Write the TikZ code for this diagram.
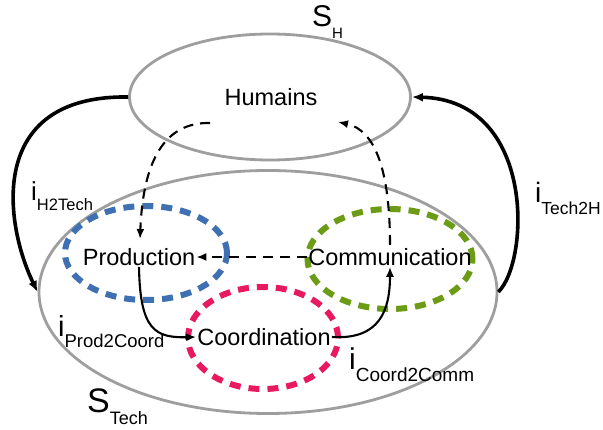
\documentclass[tikz,border=0pt]{standalone}
\usepackage{fontspec}
\setmainfont{Liberation Sans}
\usetikzlibrary{shapes.geometric,arrows.meta}
\definecolor{grayline}{RGB}{158,158,158}
\definecolor{prodblue}{RGB}{62,112,178}
\definecolor{coordpink}{RGB}{232,25,95}
\definecolor{commgreen}{RGB}{108,155,22}
% #1 main letter, #2 subscript, #3 main size, #4 sub size, #5 lowering
\newcommand{\lbl}[5]{{\fontsize{#3}{#3}\selectfont #1}\raisebox{-#5}{\fontsize{#4}{#4}\selectfont #2}}
\begin{document}
\begin{tikzpicture}[x=1pt,y=-1pt,
  sys/.style={ellipse,draw=grayline,line width=2.8pt,inner sep=0pt},
  sub/.style={ellipse,line width=6pt,dash pattern=on 11pt off 8pt,inner sep=0pt},
  word/.style={font=\fontsize{23.5}{23.5}\selectfont,inner sep=1pt},
  big/.style={-{Latex[length=11pt,width=9pt]},line width=3.6pt},
  small/.style={-{Latex[length=10pt,width=8pt]},line width=2.1pt},
  dsh/.style={-{Latex[length=10pt,width=8pt]},line width=2.1pt,dash pattern=on 10pt off 7pt},
  lab/.style={inner sep=0pt,anchor=base west}]
\useasboundingbox (0,0) rectangle (603,430);
% system ellipses
\node[sys,minimum width=281pt,minimum height=126pt] (hum) at (270,97) {};
\node[sys,minimum width=458pt,minimum height=243pt] (tech) at (268,292) {};
% sub-ellipses
\node[sub,draw=prodblue,minimum width=162pt,minimum height=94pt] (prodE) at (146,253) {};
\node[sub,draw=coordpink,minimum width=150pt,minimum height=102pt] (coordE) at (263,338) {};
\node[sub,draw=commgreen,minimum width=165pt,minimum height=100pt] (commE) at (390,259) {};
% texts
\node[word] (humT) at (271,97) {Humains};
\node[word] (prod) at (139,257) {Production};
\node[word] (comm) at (390,257) {Communication};
\node[word] (coord) at (264,337) {Coordination};
% labels
\node[lab] (sh) at (312,27) {\lbl{S}{H}{30}{15}{12pt}};
\node[lab] (st) at (87,413) {\lbl{S}{Tech}{34}{18}{12pt}};
\node[lab] (ih2t) at (31,201) {\lbl{i}{H2Tech}{26}{16.5}{10pt}};
\node[lab] (it2h) at (535,203) {\lbl{i}{Tech2H}{28}{17.5}{12pt}};
\node[lab] (ip2c) at (58,337) {\lbl{i}{Prod2Coord}{29}{18.5}{11pt}};
\node[lab] (ic2c) at (349,370) {\lbl{i}{Coord2Comm}{30}{19}{12pt}};
% helper coordinates
\coordinate (hstart) at (210,123);
\coordinate (hend) at (338,122);
\coordinate (pend) at (140,239);
\coordinate (cstart) at (390,245);
% connectors
\draw[big] (hum.west) .. controls (-15,95) and (5,225) .. (tech.west);
\draw[big] (tech.east) .. controls (530,260) and (535,100) .. (hum.east);
\draw[dsh] (hstart) .. controls (165,122) and (143,160) .. (pend);
\draw[dsh] (cstart) .. controls (390,170) and (375,130) .. (hend);
\draw[dsh] (comm.west) -- (prod.east);
\draw[small] (prod.south) .. controls (140,330) and (155,338) .. (coord.west);
\draw[small] (coord.east) .. controls (380,340) and (390,310) .. (comm.south);
\end{tikzpicture}
\end{document}
